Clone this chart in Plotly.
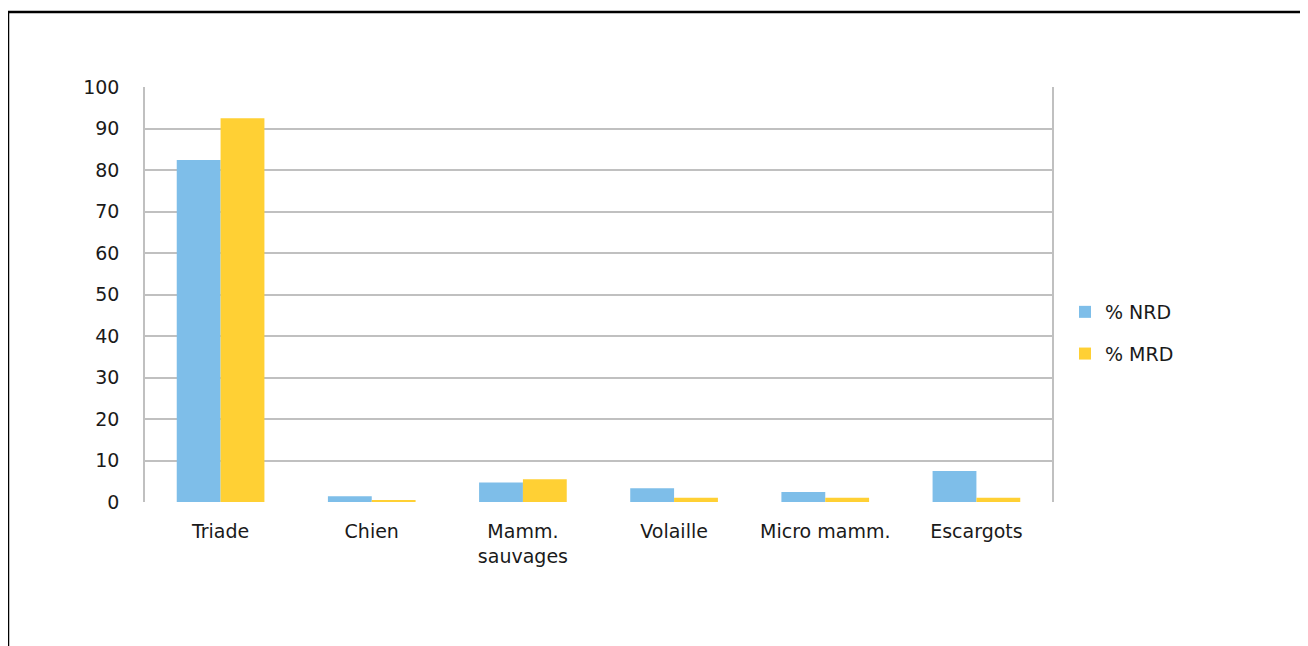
import plotly.graph_objects as go

categories = ["Triade", "Chien", "Mamm.<br>sauvages", "Volaille", "Micro mamm.", "Escargots"]
nrd = [82.4, 1.4, 4.7, 3.3, 2.4, 7.5]
mrd = [92.5, 0.5, 5.5, 1.0, 1.0, 1.0]
series_names = ["% NRD", "% MRD"]
tick_vals = [0, 10, 20, 30, 40, 50, 60, 70, 80, 90, 100]

FONT = "DejaVu Sans"
TXT = "#1a1a1a"
FS = 19

fig = go.Figure()
fig.add_trace(go.Bar(x=categories, y=nrd, name=series_names[0], marker_color="#7EBEE9",
                     marker_line_width=0, legendgroup="a"))
fig.add_trace(go.Bar(x=categories, y=mrd, name=series_names[1], marker_color="#FFD034",
                     marker_line_width=0, legendgroup="b"))

OFF = 8  # page offset of the figure in the browser
W, H = 1308, 646
L, T = 145 - OFF, 87 - OFF
pw, ph = 907, 415
R, B = W - L - pw, H - T - ph

def px(x):
    return (x - OFF - L) / pw

def py(y):
    return (T + ph - (y - OFF)) / ph

fig.update_layout(
    width=W, height=H,
    margin=dict(l=L, r=R, t=T, b=B, autoexpand=False),
    paper_bgcolor="white", plot_bgcolor="white",
    barmode="group", bargap=0.42, bargroupgap=0,
    font=dict(family=FONT, size=FS, color=TXT),
    showlegend=True,
    legend=dict(x=px(1065), y=py(293), xanchor="left", yanchor="top",
                traceorder="grouped", tracegroupgap=14,
                font=dict(family=FONT, size=FS, color=TXT),
                bgcolor="rgba(0,0,0,0)"),
    xaxis=dict(showgrid=False, showline=False, zeroline=False, ticks="",
               tickfont=dict(family=FONT, size=FS, color=TXT), ticklabelstandoff=16),
    yaxis=dict(range=[0, 100], tickvals=tick_vals, showgrid=True, gridcolor="#C0C0C0",
               gridwidth=1.5, zeroline=False, showline=True, linecolor="#C0C0C0",
               linewidth=1.5, mirror=True, ticks="",
               tickfont=dict(family=FONT, size=FS, color=TXT), ticklabelstandoff=20),
    shapes=[
        dict(type="line", xref="paper", yref="paper", x0=px(8), x1=px(1320), y0=py(12), y1=py(12),
             line=dict(color="black", width=2.5)),
        dict(type="line", xref="paper", yref="paper", x0=px(8), x1=px(8), y0=py(12), y1=py(660),
             line=dict(color="black", width=2.5)),
    ],
)

fig.write_html("out.html")
